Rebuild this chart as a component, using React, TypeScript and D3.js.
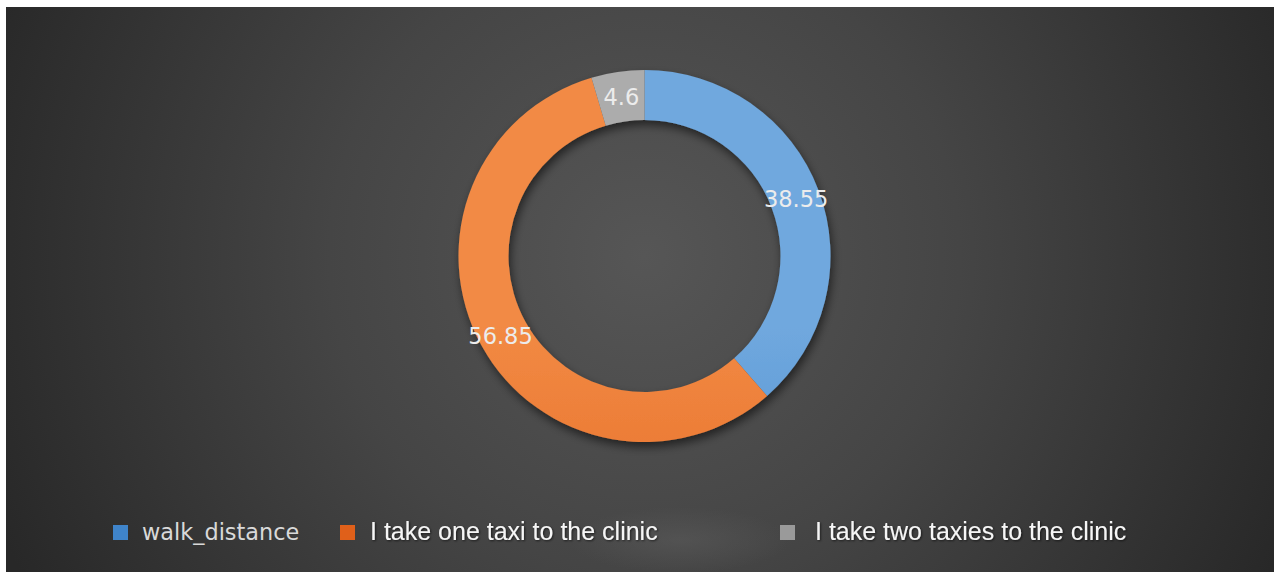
import React from "react";
import * as d3 from "d3";

const categories = ["walk_distance", "I take one taxi to the clinic", "I take two taxies to the clinic"];
const values = [38.55, 56.85, 4.6];
const labels = ["38.55", "56.85", "4.6"];
const colorsTop = ["#70a8de", "#f28a44", "#acacac"];
const colorsBottom = ["#3f84ca", "#e0601a", "#9a9a9a"];

const W = 1274;
const H = 572;
const cx = 644.5;
const cy = 256;
const outerR = 186;
const innerR = 136;

export default function App() {
  const pie = d3.pie<number>().sort(null).value((d) => d)(values);
  const arc = d3.arc<d3.PieArcDatum<number>>().innerRadius(innerR).outerRadius(outerR);
  const legendX = [113, 340, 780];
  const labelShift = [[1, 1], [-3, 4], [0, 2]];
  return (
    <svg width={W} height={H} style={{ position: "absolute", left: 0, top: 0, background: "#fff" }}>
      <defs>
        <radialGradient id="bg" cx={cx} cy={cy} r={700} gradientUnits="userSpaceOnUse">
          <stop offset="0" stopColor="#565656" />
          <stop offset="0.45" stopColor="#454545" />
          <stop offset="1" stopColor="#282828" />
        </radialGradient>
        <radialGradient id="streak" cx={680} cy={540} r={110} gradientUnits="userSpaceOnUse"
          gradientTransform="translate(680 540) scale(1 0.3) translate(-680 -540)">
          <stop offset="0" stopColor="#5a5a5a" stopOpacity="0.6" />
          <stop offset="1" stopColor="#5a5a5a" stopOpacity="0" />
        </radialGradient>
        {values.map((_, i) => (
          <linearGradient key={i} id={`g${i}`} x1="0" y1={cy - outerR} x2="0" y2={cy + outerR} gradientUnits="userSpaceOnUse">
            <stop offset="0" stopColor={colorsTop[i]} />
            <stop offset="1" stopColor={colorsBottom[i]} />
          </linearGradient>
        ))}
        <filter id="shadow" x="-20%" y="-20%" width="140%" height="140%">
          <feGaussianBlur in="SourceAlpha" stdDeviation="5" />
          <feOffset dx="2" dy="5" result="ob" />
          <feComponentTransfer>
            <feFuncA type="linear" slope="0.55" />
          </feComponentTransfer>
          <feMerge>
            <feMergeNode />
            <feMergeNode in="SourceGraphic" />
          </feMerge>
        </filter>
        <filter id="tshadow" x="-10%" y="-30%" width="120%" height="160%">
          <feGaussianBlur in="SourceAlpha" stdDeviation="1" />
          <feOffset dx="1" dy="1" />
          <feComponentTransfer>
            <feFuncA type="linear" slope="0.6" />
          </feComponentTransfer>
          <feMerge>
            <feMergeNode />
            <feMergeNode in="SourceGraphic" />
          </feMerge>
        </filter>
      </defs>
      <rect x={6} y={7} width={W - 6} height={H - 7} fill="url(#bg)" />
      <rect x={6} y={480} width={W - 6} height={H - 480} fill="url(#streak)" />
      <g transform={`translate(${cx},${cy})`} filter="url(#shadow)">
        {pie.map((p, i) => (
          <path key={i} d={arc(p) || ""} fill={`url(#g${i})`} />
        ))}
      </g>
      <g transform={`translate(${cx},${cy})`}>
        {pie.map((p, i) => {
          const [x, y] = arc.centroid(p);
          return (
            <text key={i} x={x + labelShift[i][0]} y={y + labelShift[i][1]} textAnchor="middle" dominantBaseline="middle"
              fontFamily="DejaVu Sans" fontSize={22.5} fill="#ececec">
              {labels[i]}
            </text>
          );
        })}
      </g>
      {categories.map((c, i) => (
        <g key={c}>
          <rect x={legendX[i]} y={525} width={15} height={15} fill={`url(#g${i})`} />
          <text x={legendX[i] + (i === 0 ? 29 : i === 1 ? 30 : 35)} y={540}
            fontFamily={i === 0 ? "DejaVu Sans" : "Liberation Sans"} fontSize={i === 0 ? 22.4 : 25}
            fill={i === 0 ? "#d9d9d9" : "#f6f6f6"}
            filter={i === 0 ? undefined : "url(#tshadow)"}>
            {c}
          </text>
        </g>
      ))}
    </svg>
  );
}
